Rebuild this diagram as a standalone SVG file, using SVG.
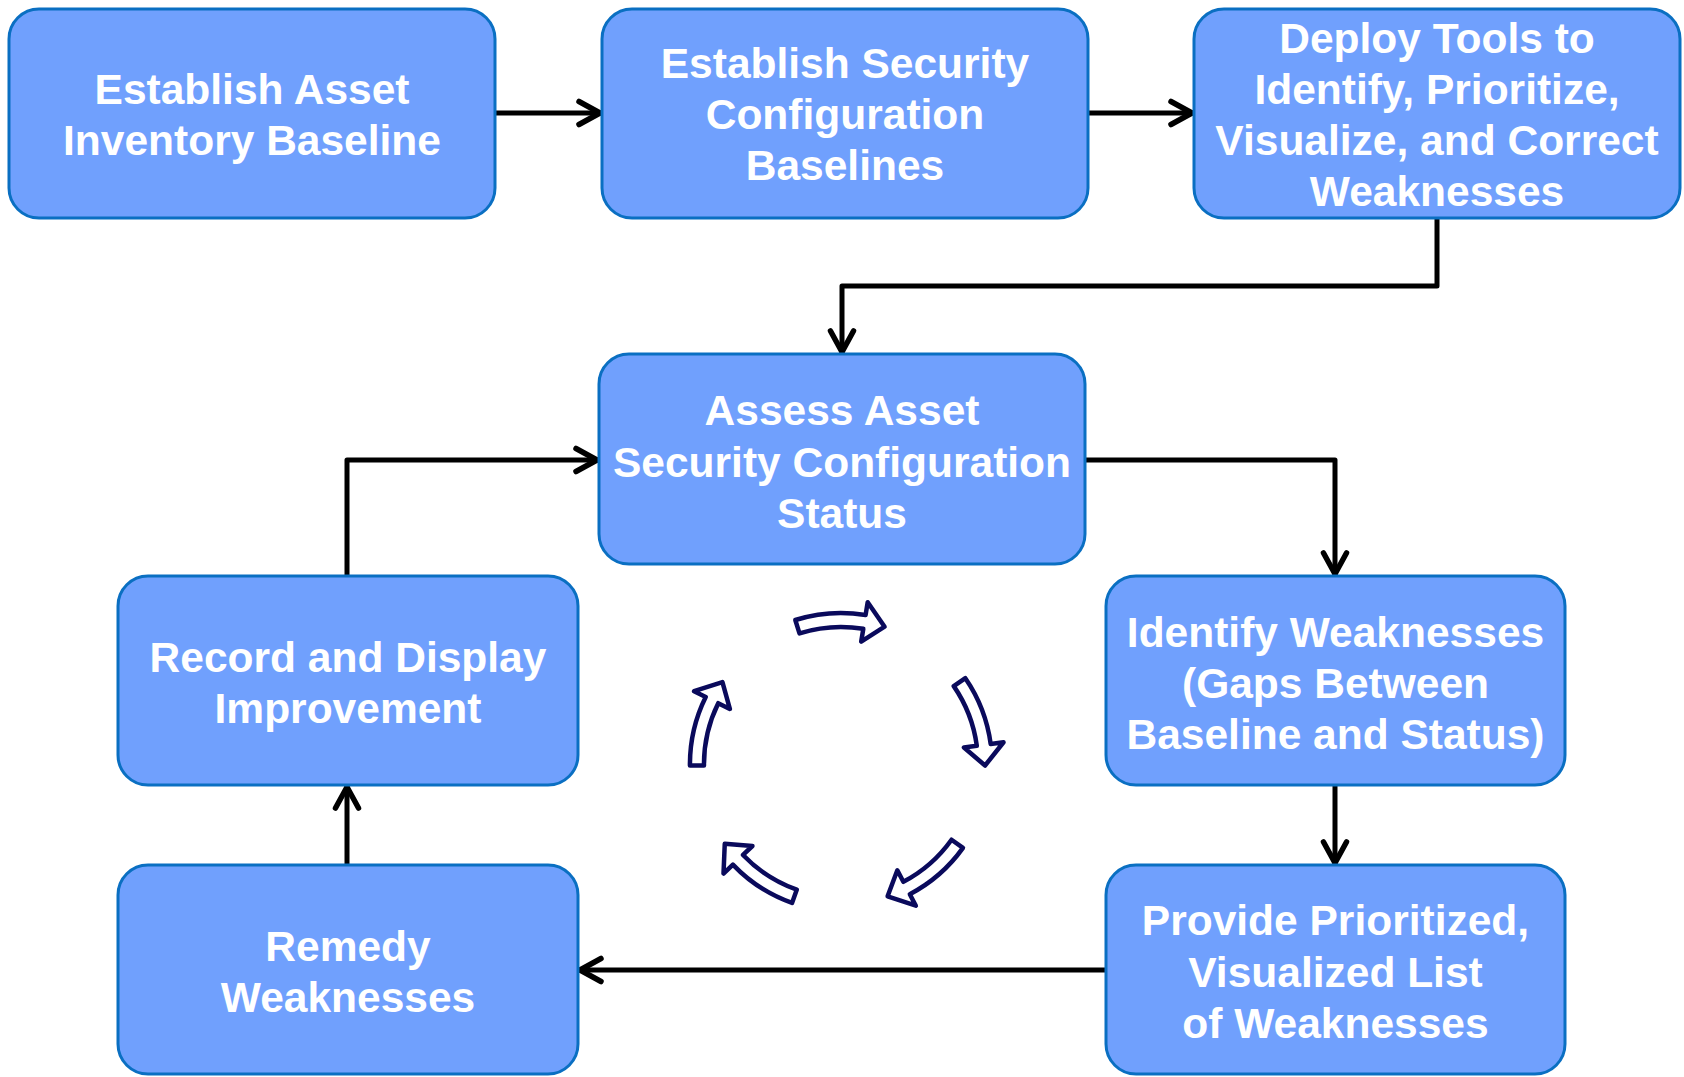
<svg xmlns="http://www.w3.org/2000/svg" xmlns:xlink="http://www.w3.org/1999/xlink" width="1684" height="1077" viewBox="0 0 1684 1077">
  <style>
    .box { fill: #70a0fd; stroke: #0a6fc2; stroke-width: 3; }
    .lbl { font-family: "Liberation Sans", Arial, sans-serif; font-weight: bold; font-size: 42.5px; fill: #ffffff; text-anchor: middle; }
    .link { fill: none; stroke: #000000; stroke-width: 5; stroke-linejoin: round; marker-end: url(#chev); }
    .cyc { fill: #ffffff; stroke: #0a0a5c; stroke-width: 4.5; stroke-linejoin: round; }
  </style>
  <defs>
    <marker id="chev" markerUnits="userSpaceOnUse" viewBox="-30 -18 34 36" refX="0" refY="0" markerWidth="34" markerHeight="36" orient="auto">
      <path d="M -22 -11.5 L -1 0 L -22 11.5" fill="none" stroke="#000000" stroke-width="5.5" stroke-linecap="round" stroke-linejoin="round"/>
    </marker>
    <!-- one curved block arrow of the cycle, drawn at the top of the ring -->
    <path id="cycArrow" class="cyc" d="M 795.3 620.0 A 152 152 0 0 1 865.6 615.0 L 867.7 602.2 L 884.6 626.7 L 861.2 641.6 L 863.3 628.8 A 138 138 0 0 0 799.5 633.4 Z"/>
  </defs>

  <g id="connectors">
    <path class="link" d="M 495 113 L 601 113"/>
    <path class="link" d="M 1088 113 L 1193 113"/>
    <path class="link" d="M 1437 218 L 1437 286 L 842 286 L 842 353"/>
    <path class="link" d="M 1085 460 L 1335 460 L 1335 575"/>
    <path class="link" d="M 1335 785 L 1335 864"/>
    <path class="link" d="M 1106 970 L 579 970"/>
    <path class="link" d="M 347 865 L 347 786"/>
    <path class="link" d="M 347 576 L 347 460 L 598 460"/>
  </g>

  <g id="cycle">
    <use xlink:href="#cycArrow"/>
    <use xlink:href="#cycArrow" transform="rotate(73 841 764)"/>
    <use xlink:href="#cycArrow" transform="rotate(143 841 762)"/>
    <use xlink:href="#cycArrow" transform="rotate(217 841 762)"/>
    <use xlink:href="#cycArrow" transform="rotate(287 841 764)"/>
  </g>

  <g id="asset-inventory">
    <rect class="box" x="9" y="9" width="486" height="209" rx="30"/>
    <text class="lbl" x="252" y="104">Establish Asset</text>
    <text class="lbl" x="252" y="155">Inventory Baseline</text>
  </g>

  <g id="security-baselines">
    <rect class="box" x="602" y="9" width="486" height="209" rx="30"/>
    <text class="lbl" x="845" y="78">Establish Security</text>
    <text class="lbl" x="845" y="129">Configuration</text>
    <text class="lbl" x="845" y="180">Baselines</text>
  </g>

  <g id="deploy-tools">
    <rect class="box" x="1194" y="9" width="486" height="209" rx="30"/>
    <text class="lbl" x="1437" y="53">Deploy Tools to</text>
    <text class="lbl" x="1437" y="104">Identify, Prioritize,</text>
    <text class="lbl" x="1437" y="155">Visualize, and Correct</text>
    <text class="lbl" x="1437" y="206">Weaknesses</text>
  </g>

  <g id="assess-status">
    <rect class="box" x="599" y="354" width="486" height="210" rx="30"/>
    <text class="lbl" x="842" y="425">Assess Asset</text>
    <text class="lbl" x="842" y="477">Security Configuration</text>
    <text class="lbl" x="842" y="528">Status</text>
  </g>

  <g id="identify-weaknesses">
    <rect class="box" x="1106" y="576" width="459" height="209" rx="30"/>
    <text class="lbl" x="1335.5" y="647">Identify Weaknesses</text>
    <text class="lbl" x="1335.5" y="698">(Gaps Between</text>
    <text class="lbl" x="1335.5" y="749">Baseline and Status)</text>
  </g>

  <g id="prioritized-list">
    <rect class="box" x="1106" y="865" width="459" height="209" rx="30"/>
    <text class="lbl" x="1335.5" y="935">Provide Prioritized,</text>
    <text class="lbl" x="1335.5" y="987">Visualized List</text>
    <text class="lbl" x="1335.5" y="1038">of Weaknesses</text>
  </g>

  <g id="record-improvement">
    <rect class="box" x="118" y="576" width="460" height="209" rx="30"/>
    <text class="lbl" x="348" y="672">Record and Display</text>
    <text class="lbl" x="348" y="723">Improvement</text>
  </g>

  <g id="remedy-weaknesses">
    <rect class="box" x="118" y="865" width="460" height="209" rx="30"/>
    <text class="lbl" x="348" y="961">Remedy</text>
    <text class="lbl" x="348" y="1012">Weaknesses</text>
  </g>
</svg>
